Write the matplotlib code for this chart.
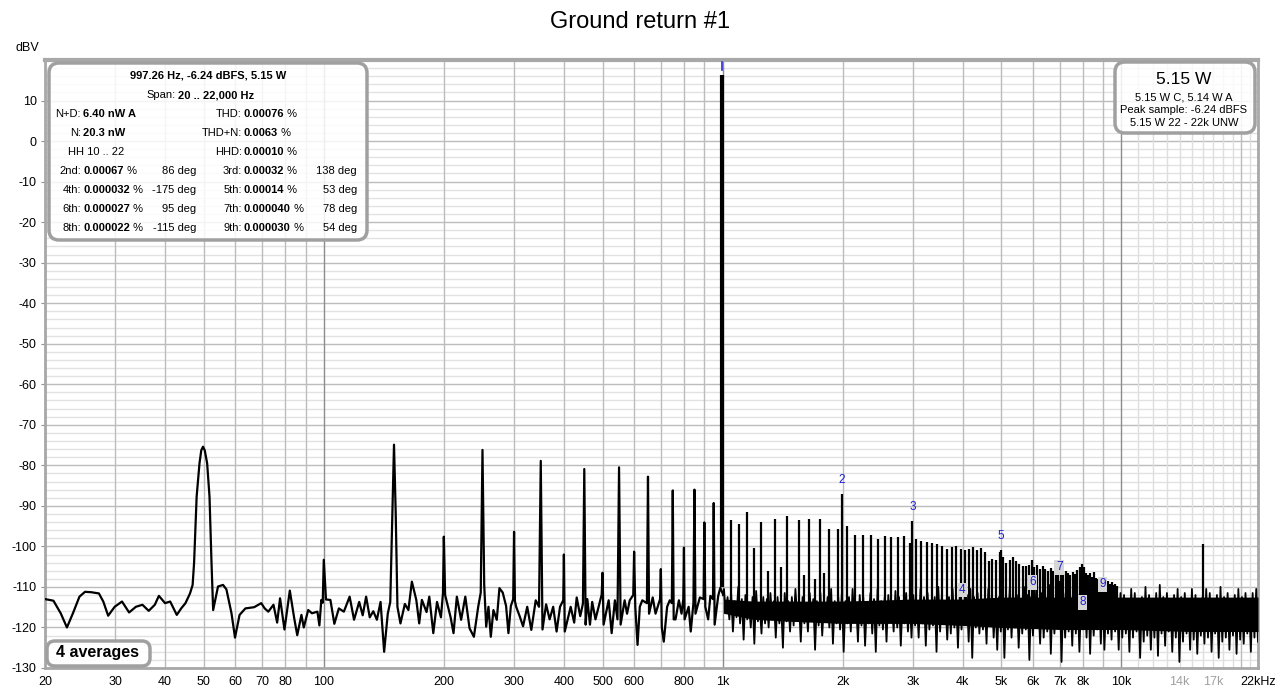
import numpy as np
import matplotlib.pyplot as plt
import matplotlib.transforms as mtransforms
from matplotlib.patches import FancyBboxPatch
from matplotlib.text import Annotation

plt.rcParams['font.family'] = ['Liberation Sans', 'DejaVu Sans']
plt.rcParams['axes.unicode_minus'] = False

# ---- data ----
# low frequency trace (Hz, dBV), 20 Hz .. just below the fundamental
lf_freq = [20.0, 21.0, 21.9, 22.7, 23.5, 24.4, 25.2, 26.1, 27.3, 28.0, 28.8, 29.9, 31.2, 32.5,
           33.8, 35.1, 36.4, 37.7, 38.6, 40.0, 41.2, 42.8, 43.9, 45.0, 46.2, 46.9, 47.3, 48.0,
           48.8, 49.3, 49.8, 50.3, 51.0, 51.7, 52.3, 52.8, 54.3, 55.9, 57.0, 58.7, 59.9, 61.5,
           63.6, 66.9,
           69.7, 71.1, 72.6, 74.8, 76.4, 77.7, 79.7, 82.2, 84.3, 85.8, 87.9, 89.1, 91.4, 93.4,
           96.4, 97.5, 98.6, 99.4, 100.0, 101.3, 103.9, 106.3, 109.1, 112.3, 116.1, 119.1, 122.7,
           125.2, 127.7, 130.4, 133.1, 135.9, 138.8, 141.7, 144.7, 146.8, 148.6, 150.0, 151.5,
           153.0, 155.7, 159.7, 163.0, 166.3, 170.6, 173.5, 176.2, 181.0, 183.9, 188.2, 192.3,
           196.7, 199.0, 200.0, 201.5, 208.0, 211.5, 215.6, 221.0, 226.4, 232.0, 237.9, 243.9,
           247.5, 250.0, 252.5, 255.4, 258.8, 262.3, 266.3, 271.5, 275.7, 281.0, 286.5, 290.4,
           294.5, 298.5, 300.0, 301.5, 303.7, 309.8, 316.0, 323.7, 331.4, 340.0, 346.5, 350.0,
           353.5, 361.0, 368.4, 376.0, 383.5, 391.2, 398.5, 400.0, 402.0, 416.0, 424.5, 430.7,
           439.6, 446.5, 450.0, 453.5, 458.0, 465.0, 471.0, 480.0, 491.0, 497.5, 500.0, 503.0,
           518.0, 527.0, 537.0, 545.0, 550.0, 555.0, 568.0, 576.0, 585.0, 597.0, 600.0, 604.0,
           612.0, 620.0, 629.0, 646.0, 650.0, 654.0, 668.0, 679.0, 697.0, 700.0, 704.0, 712.0,
           726.0, 737.0, 746.0, 750.0, 754.0, 762.0, 777.0, 789.0, 797.0, 800.0, 803.0, 822.0,
           832.0, 845.0, 850.0, 855.0, 877.0, 896.0, 900.0, 905.0, 920.0, 932.0, 946.0, 950.0,
           955.0, 975.0, 987.0, 1004.0]
lf_db = [-113.0, -113.4, -116.5, -120.0, -116.5, -112.4, -111.2, -111.3, -111.6, -113.6, -117.1,
         -114.9, -113.6, -116.3, -114.9, -114.4, -115.9, -114.4, -112.2, -114.0, -113.6, -116.9,
         -115.3, -114.0, -111.6, -109.5, -104.0, -87.7, -79.5, -76.3, -75.4, -76.3, -79.5, -87.7,
         -104.0, -115.7,
         -109.9, -109.5, -110.6, -116.5, -122.5, -116.9, -115.3, -115.0, -114.0, -115.3, -116.1,
         -114.4, -118.8, -112.8, -120.5, -110.9, -117.7, -121.9, -116.9, -120.0, -115.7, -116.5,
         -116.1, -119.5, -113.2, -113.9, -103.3, -113.1, -113.2, -119.1, -115.3, -116.1, -112.4,
         -118.1, -113.7, -117.0, -112.4, -117.5, -116.0, -118.1, -113.7, -126.0, -116.6, -113.7,
         -92.0, -74.9, -92.0, -114.9, -119.0, -114.2, -115.7, -108.7, -113.2, -119.0, -113.2,
         -116.2, -112.4, -121.4, -113.7, -117.5, -111.6, -97.6, -112.0, -117.5, -121.4, -112.4,
         -118.1, -112.4, -120.2, -122.3, -114.9, -111.4, -76.2, -109.5, -119.8, -114.9, -122.3,
         -115.7, -118.1, -110.3, -111.4, -114.7, -121.4, -114.7, -113.0, -96.4, -113.5, -114.9,
         -117.2, -119.7, -114.9, -120.6, -113.3, -114.9, -78.9, -120.5, -114.3, -118.0, -114.9,
         -121.0, -114.9, -113.3, -102.0, -121.0, -114.9, -118.8, -112.6, -117.2, -114.1, -80.9,
         -119.3, -113.0, -119.3, -113.7, -118.0, -114.1, -111.9, -106.5, -119.3, -113.3, -121.4,
         -113.3, -118.0, -80.5, -119.3, -113.3, -116.6, -113.3, -112.0, -101.3, -114.9, -124.3,
         -114.9, -113.3, -114.0, -82.8, -116.6, -112.6, -116.6, -113.0, -105.6, -120.0, -123.5,
         -114.9, -113.3, -114.0, -86.2, -118.0, -118.0, -113.3, -116.6, -113.0, -100.3, -118.0,
         -114.9, -121.0, -114.0, -86.0, -116.6, -112.6, -113.0, -94.1, -114.9, -118.0, -112.2,
         -113.0, -89.3, -119.3, -112.2, -110.2, -112.0]

# dense noise band above 1 kHz: alternating upper / lower excursions
noise_hi = [-110.5, -112.5, -111.5, -113.5, -110, -113, -112, -114, -112.5, -111, -114.5, -112.5,
            -113, -111.5, -113.5, -112.5, -114.5, -111.5, -113.5, -112.5, -110.5, -114, -112.5,
            -114, -111.5, -113, -113.5, -111.5, -114, -112.5, -110.5, -113.5, -112.5,
            -111.5, -113.5, -112.5, -110.5, -114, -112, -112.5, -114, -111.5, -113, -110.5,
            -113.5, -112.5, -112, -114, -111, -112.5, -113.5, -111.5, -113,
            -112, -113.5, -110.5, -112.5, -111.5, -114, -112.5, -110, -112, -113.5, -112.5, -110.5,
            -113, -111.5, -113.5, -112, -110.5, -112.5, -111.5, -113.5, -113, -110.5, -112, -113.5,
            -112.5,
            -111.5, -113, -110.5, -112.5, -112, -113.5, -110, -112, -112.5, -110.5, -113.5, -111.5,
            -112.5, -109.5, -112, -113, -110.5, -111.5, -113.5, -112.5, -110, -112, -113, -111.5,
            -110.5, -112.5, -113.5, -111.5, -110.5, -112.5, -112, -110, -113, -111.5,
            -112, -113, -110.5, -111.5, -113.5, -112.5, -110, -112, -113, -111.5, -109.5, -112.5,
            -111.5, -113.5, -112, -110.5, -112.5, -111.5, -113, -110.5, -112, -113.5, -112.5, -110.5,
            -111.5, -113, -112, -110, -112.5, -111.5, -113.5, -112, -110.5, -112.5, -111.5, -113,
            -111.5, -110.5]
noise_lo = [-116.5, -118, -121, -117.5, -119, -123, -118, -120, -124, -118.5, -121.5, -119,
            -120, -118, -122.5, -119, -125, -118.5, -121, -119.5, -117.5, -123.5, -119, -121,
            -118, -125.5, -119.5, -122, -118.5, -120, -124, -119, -120.5,
            -126, -119, -121, -118.5, -123.5, -119.5, -124.5, -119, -121.5, -126, -119.5, -120.5,
            -123.5, -118.5, -121, -120, -124.5, -119, -121, -122.5,
            -119.5, -122.5, -119, -124.5, -120.5, -119.5, -126, -121, -119, -123, -121.5, -120,
            -125, -120.5, -119, -123.5, -127.5, -120, -121.5, -120.5, -124, -119.5, -122.5, -125.5,
            -121,
            -127.5, -120.5, -122.5, -120, -125, -121.5, -120.5, -128, -122, -120, -124, -122.5,
            -121, -126.5, -121.5, -120, -128.5, -122.5, -121, -124.5, -121.5, -126, -120.5, -122.5,
            -126.5, -122, -120.5, -124, -125.5, -121.5, -123, -121, -125.5, -122.5,
            -121.5, -126, -122.5, -121, -127.5, -123.5, -122, -125.5, -122.5, -127, -121.5, -124.5,
            -121, -126, -122.5, -128.5, -123.5, -121.5, -125.5, -123, -126.5, -122, -124, -122.5,
            -126, -121.5, -127.5, -123.5, -122.5, -125.5, -122, -126.5, -123, -124, -121.5, -126,
            -122.5, -123.5]

# solid core of the noise band (where the trace is too dense to separate)
core_freq = [1005, 1200, 1500, 2000, 3000, 4000, 5000, 7000, 10000, 15000, 22000]
core_top = [-113.0, -113.5, -113.5, -113.5, -113.0, -113.0, -112.5, -112.5, -112.5, -112.5, -112.5]
core_bot = [-116.5, -118.0, -118.5, -119.0, -119.0, -119.5, -120.0, -120.5, -120.5, -121.0, -121.0]

# fundamental
fund_freq = 997.26
fund_db = 16.3

# mains related lines above 1 kHz
peak_freq = [1050, 1100, 1150, 1200, 1250, 1300, 1350, 1400, 1450, 1550, 1600, 1650, 1700, 1750,
             1800, 1850, 1950, 2050, 2150, 2250, 2350, 2450, 2550, 2650, 2750, 2850, 2950,
             3050, 3150, 3250, 3350, 3450, 3550, 3650, 3750, 3850, 3950, 4050, 4150, 4250,
             4350, 4450, 4550, 4650, 4750, 4850, 4950, 5050, 5150, 5250, 5350, 5450, 5550,
             5650, 5750, 5850, 5950, 6050, 6150, 6250, 6350, 6450, 6550, 6650, 6750, 6850,
             6950, 7050, 7150, 7250, 7350, 7450, 7550, 7650, 7750, 7850, 7950, 8050, 8150,
             8250, 8350, 8450, 8550, 8650, 8750, 8850, 8950, 9050, 9150, 9250, 9350, 9450,
             9550, 9650, 9750, 16000]
peak_db = [-93.5, -94.4, -91.4, -100.3, -94.0, -106.0, -93.3, -105.0, -92.6, -93.6, -107.0, -93.3,
           -108.0, -93.3, -106.5, -95.8, -95.8, -95.0, -97.1, -97.1, -97.1, -98.2, -97.4, -97.7,
           -97.7, -97.5, -99.2, -98.2, -98.6, -99.0, -99.2, -99.5, -99.9, -100.7, -100.2, -100.0,
           -100.7, -101.0, -100.7, -100.2, -101.0, -100.4, -101.5, -103.7, -103.0, -103.4, -101.5,
           -102.6, -104.0, -103.4, -102.6, -103.5, -104.3, -104.8, -104.8, -104.5, -103.4, -105.0,
           -104.5, -105.5, -104.8, -105.5, -106.0, -105.3, -106.0, -106.5, -105.8, -106.2, -106.8,
           -106.0, -106.5, -107.0, -106.2, -106.8, -105.8, -105.2, -104.3, -105.0, -106.5, -107.0,
           -106.5, -107.5, -106.3, -107.8, -108.0, -107.5, -108.5, -108.2, -109.0, -108.6, -109.2,
           -108.8, -109.5, -109.2, -109.8, -99.4]

# distortion harmonics (marker levels)
harm_num = [2, 3, 4, 5, 6, 7, 8, 9]
harm_freq = [1994.5, 2991.8, 3989.0, 4986.3, 5983.6, 6980.8, 7978.1, 8975.3]
harm_db = [-87.1, -93.7, -114.2, -100.9, -112.3, -108.6, -117.2, -112.8]
harm_boxed = [False, False, True, False, True, True, True, True]

# axis labels
xtick_vals = [20, 30, 40, 50, 60, 70, 80, 100, 200, 300, 400, 500, 600, 800, 1000, 2000, 3000,
              4000, 5000, 6000, 7000, 8000, 10000, 14000, 17000, 22000]
xtick_text = ['20', '30', '40', '50', '60', '70', '80', '100', '200', '300', '400', '500', '600',
              '800', '1k', '2k', '3k', '4k', '5k', '6k', '7k', '8k', '10k', '14k', '17k', '22kHz']
ytick_vals = list(range(-130, 11, 10))

# info box text
info_head = '997.26 Hz, -6.24 dBFS, 5.15 W'
span_val = '20 .. 22,000 Hz'
left_rows = [('N+D:', '6.40 nW A', '', ''), ('N:', '20.3 nW', '', ''),
             ('', '', '', ''),
             ('2nd:', '0.00067', ' %', '86 deg'), ('4th:', '0.000032', ' %', '-175 deg'),
             ('6th:', '0.000027', ' %', '95 deg'), ('8th:', '0.000022', ' %', '-115 deg')]
right_rows = [('THD:', '0.00076', ' %', ''), ('THD+N:', '0.0063', ' %', ''),
              ('HHD:', '0.00010', ' %', ''),
              ('3rd:', '0.00032', ' %', '138 deg'), ('5th:', '0.00014', ' %', '53 deg'),
              ('7th:', '0.000040', ' %', '78 deg'), ('9th:', '0.000030', ' %', '54 deg')]
power_lines = ['5.15 W C, 5.14 W A', 'Peak sample: -6.24 dBFS', '5.15 W 22 - 22k UNW']

# ---- figure ----
W, H = 1280, 692
fig = plt.figure(figsize=(W / 100, H / 100), dpi=100)
px = mtransforms.Affine2D().scale(0.01, -0.01).translate(0, H / 100) + fig.dpi_scale_trans

x0, x1, y0, y1 = 45, 1258, 60, 668
ax = fig.add_axes([x0 / W, 1 - y1 / H, (x1 - x0) / W, (y1 - y0) / H])
ax.set_xscale('log')
ax.set_xlim(20, 22000)
ax.set_ylim(-130, 20)

# grid
for v in range(-130, 20, 2):
    major = v % 10 == 0
    ax.axhline(v, color='#bcbcbc' if major else '#e2e2e2', lw=1.0, zorder=0)
for d in [10, 100, 1000]:
    for k in range(1, 10):
        f = k * d
        if f < 20:
            continue
        c = '#8c8c8c' if (k == 1 and d > 10) else '#bcbcbc'
        ax.axvline(f, color=c, lw=1.0, zorder=0)
for f in range(10000, 22001, 1000):
    c = '#8c8c8c' if f == 10000 else ('#bcbcbc' if f == 20000 else '#dedede')
    ax.axvline(f, color=c, lw=1.0, zorder=0)

# spectrum
ax.plot(lf_freq, lf_db, color='black', lw=1.6, zorder=3)
ax.fill_between(core_freq, core_bot, core_top, color='black', lw=0, zorder=3)
hf_f = np.geomspace(1008, 22000, 2 * len(noise_hi))
hf_db = np.empty(2 * len(noise_hi))
hf_db[0::2] = noise_hi
hf_db[1::2] = noise_lo
ax.plot(np.r_[lf_freq[-1], hf_f], np.r_[lf_db[-1], hf_db], color='black', lw=1.3, zorder=3)
ax.vlines(peak_freq, -114, peak_db, color='black', lw=1.6, zorder=3)
ax.vlines(harm_freq, -114, harm_db, color='black', lw=1.6, zorder=3)
ax.vlines([fund_freq], -110, fund_db, color='black', lw=3.0, zorder=4)
ax.plot([fund_freq, fund_freq], [17.5, 19.6], color='#2a2ad0', lw=1.2, zorder=5, clip_on=False)

for n, f, db, boxed in zip(harm_num, harm_freq, harm_db, harm_boxed):
    kw = {}
    if boxed:
        kw['bbox'] = dict(boxstyle='square,pad=0.12', fc='#d6d6d6', ec='none')
    ax.annotate(str(n), (f, db), xytext=(0, 10), textcoords='offset points', ha='center',
                va='center', color='#1c1cd0', fontsize=8.5, zorder=6, **kw)

# axes look
for s in ax.spines.values():
    s.set_color('#a8a8a8')
    s.set_linewidth(2.0)
ax.spines['top'].set_linewidth(3.0)
ax.set_xticks(xtick_vals)
ax.set_xticklabels(xtick_text, fontsize=9)
ax.xaxis.set_minor_locator(plt.NullLocator())
ax.set_yticks(ytick_vals)
ax.set_yticklabels([str(v) for v in ytick_vals], fontsize=9)
ax.tick_params(axis='x', length=0, pad=6)
ax.tick_params(axis='y', length=3, color='#909090', pad=3)
for lab in ax.get_xticklabels():
    if lab.get_text() in ('14k', '17k'):
        lab.set_color('#a0a0a0')

# title and unit
fig.text(640, 22, 'Ground return #1', transform=px, ha='center', va='center', fontsize=17)
fig.text(27, 48, 'dBV', transform=px, ha='center', va='center', fontsize=9)


def rbox(xa, ya, xb, yb, r=10, alpha=0.85):
    p = FancyBboxPatch((xa, ya), xb - xa, yb - ya, boxstyle=f'round,pad=0,rounding_size={r}',
                       transform=px, ec='#a0a0a0', lw=2.5, zorder=10)
    p.set_facecolor((1, 1, 1, alpha))
    fig.add_artist(p)


# info box
rbox(49, 63, 367, 240)
fs = 8
fig.text(208, 75, info_head, transform=px, ha='center', va='center', fontsize=fs,
         fontweight='bold', zorder=11)
fig.text(176, 95, 'Span:', transform=px, ha='right', va='center', fontsize=fs, zorder=11)
fig.text(178, 95, span_val, transform=px, ha='left', va='center', fontsize=fs,
         fontweight='bold', zorder=11)
fig.text(96, 152, 'HH 10 .. 22', transform=px, ha='center', va='center', fontsize=fs, zorder=11)


def cell(xl, y, label, val, unit, deg, xdeg):
    if label:
        fig.text(xl, y, label, transform=px, ha='right', va='center', fontsize=fs, zorder=11)
    if val:
        t = fig.text(xl + 2, y, val, transform=px, ha='left', va='center', fontsize=fs,
                     fontweight='bold', zorder=11)
        if unit:
            a = Annotation(unit, xy=(1, 0), xycoords=t, ha='left', va='bottom', fontsize=fs,
                           annotation_clip=False)
            a.set_zorder(11)
            fig.add_artist(a)
    if deg:
        fig.text(xdeg, y, deg, transform=px, ha='right', va='center', fontsize=fs, zorder=11)


row_y = [114, 133, 152, 171, 190, 209, 228]
for y, lr, rr in zip(row_y, left_rows, right_rows):
    cell(81, y, *lr, 196)
    cell(242, y, *rr, 357)

# power box
rbox(1115, 62, 1255, 133)
fig.text(1184, 79, '5.15 W', transform=px, ha='center', va='center', fontsize=12.5, zorder=11)
for y, s in zip([97, 110, 123], power_lines):
    fig.text(1184, y, s, transform=px, ha='center', va='center', fontsize=fs, zorder=11)

# averages box
rbox(47, 641, 150, 666, r=8, alpha=0.9)
fig.text(98, 653, '4 averages', transform=px, ha='center', va='center', fontsize=11.5,
         fontweight='bold', zorder=11)

fig.savefig('out.png', dpi=100)
